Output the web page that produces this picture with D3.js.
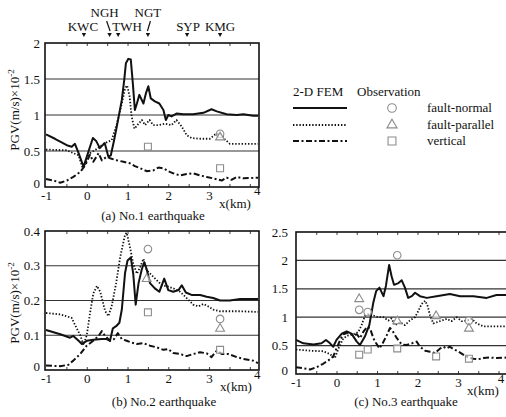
<!DOCTYPE html>
<html>
<head>
<meta charset="utf-8">
<script src="https://cdn.jsdelivr.net/npm/d3@7"></script>
<style>
  body { margin: 0; background: #fff; }
  svg, svg text { font-family: "Liberation Serif", "DejaVu Serif", "Times New Roman", serif !important; }
</style>
</head>
<body>
<div id="chart"></div>
<script>
/* CONSTANTS AND DATA */
const width = 506, height = 417;
const serif = "'Liberation Serif', 'DejaVu Serif', serif";

// observation stations along the profile (km)
const stations = ["KWC", "NGH", "TWH", "NGT", "SYP", "KMG"];
const stationKm = [-0.07, 0.56, 0.77, 1.5, 2.46, 3.27];

const xTicks = [-1, 0, 1, 2, 3, 4];
const xMinor = [-0.5, 0, 0.5, 1, 1.5, 2, 2.5, 3, 3.5, 4];

// No.1 earthquake  [x(km), PGV]
const eq1Normal = [[-1,0.73],[-0.78,0.67],[-0.49,0.58],[-0.37,0.56],[-0.29,0.6],[-0.2,0.47],[-0.08,0.28],[0.04,0.49],[0.15,0.68],[0.23,0.64],[0.32,0.54],[0.44,0.61],[0.53,0.42],[0.59,0.44],[0.67,0.65],[0.75,0.88],[0.86,1.21],[0.92,1.49],[0.96,1.72],[1.02,1.78],[1.08,1.77],[1.13,1.44],[1.18,1.07],[1.23,1.16],[1.29,1.28],[1.39,1.16],[1.45,1.3],[1.51,1.4],[1.57,1.23],[1.67,1.19],[1.78,1.16],[1.88,1.07],[1.94,0.93],[2.0,1.0],[2.08,0.98],[2.2,1.02],[2.37,1.01],[2.61,1.01],[2.86,1.03],[3.06,1.08],[3.19,1.05],[3.43,1.01],[3.68,1.0],[3.84,1.01],[4.08,0.99],[4.2,0.99]];
const eq1Parallel = [[-1,0.52],[-0.49,0.51],[-0.33,0.47],[-0.2,0.44],[-0.1,0.26],[0,0.37],[0.08,0.47],[0.25,0.53],[0.41,0.6],[0.53,0.63],[0.61,0.65],[0.74,0.88],[0.86,1.16],[0.94,1.37],[0.99,1.41],[1.05,1.26],[1.1,0.98],[1.17,0.81],[1.27,0.88],[1.35,0.93],[1.43,0.86],[1.54,0.93],[1.63,0.86],[1.76,0.86],[1.92,0.88],[2.08,0.86],[2.2,0.93],[2.33,0.84],[2.45,0.72],[2.57,0.68],[2.78,0.67],[3.02,0.67],[3.15,0.73],[3.27,0.74],[3.39,0.66],[3.51,0.6],[3.76,0.6],[4.2,0.6]];
const eq1Vertical = [[-1,0.11],[-0.82,0.09],[-0.65,0.06],[-0.49,0.09],[-0.33,0.14],[-0.16,0.21],[-0.04,0.3],[0.08,0.45],[0.16,0.35],[0.29,0.47],[0.37,0.37],[0.49,0.42],[0.57,0.4],[0.74,0.37],[0.9,0.35],[1.06,0.33],[1.18,0.29],[1.31,0.26],[1.47,0.22],[1.63,0.23],[1.76,0.27],[1.88,0.26],[2.0,0.22],[2.12,0.19],[2.29,0.16],[2.45,0.18],[2.61,0.19],[2.78,0.16],[2.94,0.14],[3.1,0.12],[3.31,0.09],[3.43,0.13],[3.55,0.1],[3.68,0.14],[3.84,0.12],[4.2,0.13]];
const eq1ObsNormal = [[3.27,0.74]];
const eq1ObsParallel = [[3.27,0.69]];
const eq1ObsVertical = [[1.5,0.56],[3.27,0.26]];

// No.2 earthquake
const eq2Normal = [[-1,0.115],[-0.65,0.103],[-0.41,0.093],[-0.33,0.098],[-0.2,0.084],[-0.12,0.075],[0,0.084],[0.16,0.087],[0.37,0.089],[0.49,0.089],[0.57,0.084],[0.64,0.12],[0.72,0.126],[0.8,0.136],[0.86,0.174],[0.94,0.28],[1.0,0.315],[1.08,0.324],[1.14,0.277],[1.2,0.188],[1.27,0.25],[1.35,0.29],[1.41,0.31],[1.47,0.29],[1.55,0.25],[1.67,0.235],[1.78,0.225],[1.9,0.263],[2.0,0.23],[2.12,0.225],[2.25,0.23],[2.33,0.244],[2.43,0.223],[2.57,0.216],[2.78,0.216],[2.94,0.211],[3.1,0.207],[3.27,0.2],[3.51,0.2],[3.76,0.204],[4.2,0.204]];
const eq2Parallel = [[-1,0.164],[-0.65,0.16],[-0.37,0.15],[-0.29,0.13],[-0.16,0.1],[-0.08,0.072],[0,0.1],[0.08,0.164],[0.16,0.22],[0.25,0.242],[0.33,0.225],[0.45,0.17],[0.53,0.155],[0.61,0.183],[0.72,0.25],[0.82,0.325],[0.94,0.39],[0.98,0.395],[1.06,0.353],[1.14,0.306],[1.23,0.277],[1.31,0.296],[1.39,0.32],[1.47,0.287],[1.59,0.273],[1.72,0.258],[1.84,0.244],[2.0,0.24],[2.12,0.235],[2.29,0.225],[2.45,0.207],[2.61,0.188],[2.74,0.183],[2.86,0.19],[2.98,0.183],[3.1,0.174],[3.27,0.169],[3.51,0.169],[3.76,0.169],[4.2,0.167]];
const eq2Vertical = [[-1,0.013],[-0.65,0.011],[-0.45,0.015],[-0.33,0.027],[-0.16,0.046],[0,0.07],[0.16,0.084],[0.29,0.098],[0.37,0.112],[0.45,0.098],[0.57,0.084],[0.67,0.089],[0.76,0.106],[0.86,0.089],[0.98,0.084],[1.1,0.079],[1.23,0.075],[1.39,0.077],[1.55,0.07],[1.72,0.065],[1.88,0.058],[2.0,0.06],[2.12,0.049],[2.29,0.046],[2.45,0.04],[2.61,0.046],[2.78,0.051],[2.94,0.048],[3.06,0.037],[3.19,0.056],[3.31,0.046],[3.47,0.046],[3.68,0.037],[3.84,0.032],[4.08,0.027],[4.2,0.02]];
const eq2ObsNormal = [[1.5,0.348],[3.27,0.147]];
const eq2ObsParallel = [[1.47,0.262],[3.27,0.119]];
const eq2ObsVertical = [[1.5,0.166],[3.27,0.058]];

// No.3 earthquake
const eq3Normal = [[-1,0.6],[-0.82,0.54],[-0.57,0.52],[-0.37,0.54],[-0.26,0.6],[-0.16,0.54],[-0.08,0.48],[0,0.6],[0.13,0.71],[0.25,0.75],[0.37,0.71],[0.5,0.57],[0.58,0.51],[0.7,0.66],[0.81,0.86],[0.91,1.26],[0.98,1.46],[1.06,1.52],[1.16,1.37],[1.22,1.55],[1.3,1.92],[1.36,1.72],[1.42,1.57],[1.53,1.6],[1.61,1.65],[1.69,1.52],[1.77,1.34],[1.86,1.37],[1.94,1.43],[2.06,1.37],[2.23,1.34],[2.47,1.37],[2.8,1.41],[3.05,1.37],[3.38,1.37],[3.71,1.34],[3.95,1.39],[4.2,1.39]];
const eq3Parallel = [[-1,0.43],[-0.65,0.41],[-0.33,0.4],[-0.16,0.35],[-0.04,0.28],[0.05,0.45],[0.17,0.63],[0.29,0.68],[0.42,0.7],[0.54,0.74],[0.62,0.86],[0.7,1.02],[0.81,1.06],[0.91,1.03],[1.03,1.0],[1.16,1.0],[1.28,0.94],[1.36,0.98],[1.44,0.86],[1.57,0.91],[1.69,0.86],[1.81,0.94],[1.94,1.0],[2.02,1.11],[2.1,1.23],[2.19,1.29],[2.25,1.2],[2.31,1.03],[2.39,0.89],[2.47,0.91],[2.6,0.94],[2.72,0.97],[2.84,0.93],[2.97,1.0],[3.09,0.93],[3.21,0.94],[3.34,0.97],[3.46,0.89],[3.63,0.84],[3.87,0.84],[4.2,0.84]];
const eq3Vertical = [[-1,0.12],[-0.82,0.1],[-0.65,0.08],[-0.49,0.12],[-0.33,0.18],[-0.2,0.24],[-0.08,0.31],[0,0.45],[0.09,0.6],[0.17,0.7],[0.29,0.73],[0.42,0.68],[0.5,0.7],[0.58,0.63],[0.66,0.74],[0.76,0.83],[0.83,0.8],[0.91,0.63],[0.98,0.54],[1.06,0.45],[1.14,0.54],[1.24,0.68],[1.32,0.81],[1.4,0.74],[1.49,0.63],[1.61,0.52],[1.73,0.51],[1.86,0.54],[1.98,0.57],[2.06,0.48],[2.19,0.41],[2.31,0.39],[2.43,0.37],[2.56,0.45],[2.64,0.48],[2.72,0.45],[2.8,0.48],[2.88,0.44],[3.0,0.4],[3.13,0.34],[3.26,0.29],[3.38,0.27],[3.5,0.26],[3.63,0.28],[3.79,0.29],[3.95,0.28],[4.2,0.29]];
const eq3ObsNormal = [[0.56,1.13],[0.77,1.09],[1.5,2.09],[3.27,0.94]];
const eq3ObsParallel = [[0.56,1.32],[1.5,0.93],[2.46,1.02],[3.27,0.8]];
const eq3ObsVertical = [[0.56,0.34],[0.77,0.43],[1.5,0.45],[2.46,0.31],[3.27,0.27]];

const yTicks1 = [0, 0.5, 1, 1.5, 2];
const yTicks2 = [0, 0.1, 0.2, 0.3, 0.4];
const yTicks3 = [0, 0.5, 1, 1.5, 2, 2.5];

/* LAYOUT */
const panels = [
  { box: { left: 45, right: 259, top: 43, bottom: 187 }, xRange: [46, 258], yDomain: [0, 2],
    yTicks: yTicks1, grid: [0.5, 1, 1.5], yLabelY: 110, title: "(a) No.1 earthquake", titleX: 153, titleY: 220,
    xLabelX: 235, lastShift: "translate(7,-5)", yPad: 5,
    lines: [eq1Normal, eq1Parallel, eq1Vertical], obs: [eq1ObsNormal, eq1ObsParallel, eq1ObsVertical], stations: true },
  { box: { left: 45, right: 259, top: 231, bottom: 370 }, xRange: [46, 258], yDomain: [0, 0.4],
    yTicks: yTicks2, grid: [0.1, 0.2, 0.3], yLabelY: 303, title: "(b) No.2 earthquake", titleX: 164, titleY: 406,
    xLabelX: 236, lastShift: "translate(7,-4)", yPad: 5,
    lines: [eq2Normal, eq2Parallel, eq2Vertical], obs: [eq2ObsNormal, eq2ObsParallel, eq2ObsVertical] },
  { box: { left: 296, right: 508, top: 232, bottom: 374 }, xRange: [296, 506.6], yDomain: [0, 2.5],
    yTicks: yTicks3, grid: [0.5, 1, 1.5, 2], title: "(c) No.3 earthquake", titleX: 406, titleY: 406,
    xLabelX: 483, lastShift: "translate(2,-4)", yPad: 8,
    lines: [eq3Normal, eq3Parallel, eq3Vertical], obs: [eq3ObsNormal, eq3ObsParallel, eq3ObsVertical] }
];

const lineStyles = [
  { width: 2, dash: null },
  { width: 1.8, dash: "1.4,1.8" },
  { width: 2, dash: "6,2.5,2,2.5" }
];
const markerTypes = [d3.symbolCircle, d3.symbolTriangle, d3.symbolSquare];
const markerSizes = [45, 34, 48];
const markerColor = "#8c8c8c";
const fontSize = 13;

const svg = d3.select("#chart").append("svg")
  .attr("width", width)
  .attr("height", height)
  .attr("font-family", serif);

/* DRAW PANELS */
panels.forEach(p => {
  const b = p.box;
  const x = d3.scaleLinear().domain([-1, 4.2]).range(p.xRange);
  const y = d3.scaleLinear().domain(p.yDomain).range([b.bottom, b.top]);
  const g = svg.append("g");

  // horizontal grid lines
  g.selectAll("line.grid")
    .data(p.grid)
    .join("line")
    .attr("class", "grid")
    .attr("x1", b.left).attr("x2", b.right)
    .attr("y1", d => y(d)).attr("y2", d => y(d))
    .attr("stroke", "#333").attr("stroke-width", 1.2);

  // inner minor ticks top & bottom
  g.append("g")
    .attr("transform", `translate(0,${b.top})`)
    .call(d3.axisBottom(x).tickValues(xMinor).tickSize(3).tickFormat(""))
    .call(a => a.select(".domain").remove())
    .selectAll("line").attr("stroke", "#444");
  g.append("g")
    .attr("transform", `translate(0,${b.bottom})`)
    .call(d3.axisTop(x).tickValues(xMinor).tickSize(3).tickFormat(""))
    .call(a => a.select(".domain").remove())
    .selectAll("line").attr("stroke", "#444");

  // x tick labels
  const xAxis = g.append("g")
    .attr("transform", `translate(0,${b.bottom})`)
    .call(d3.axisBottom(x).tickValues(xTicks).tickSize(0).tickPadding(4).tickFormat(d => String(d)))
    .attr("font-family", serif).attr("font-size", fontSize);
  xAxis.select(".domain").remove();
  xAxis.selectAll("text").attr("fill", "#111");
  xAxis.selectAll(".tick").filter(d => d === 4).select("text")
    .attr("transform", p.lastShift);

  g.append("text")
    .attr("x", p.xLabelX)
    .attr("y", b.bottom + 21)
    .attr("text-anchor", "middle")
    .attr("font-size", fontSize).attr("fill", "#111")
    .text("x(km)");

  // y tick labels
  const yAxis = g.append("g")
    .attr("transform", `translate(${b.left},0)`)
    .call(d3.axisLeft(y).tickValues(p.yTicks).tickSize(0).tickPadding(p.yPad).tickFormat(d => String(d)))
    .attr("font-family", serif).attr("font-size", fontSize);
  yAxis.select(".domain").remove();
  yAxis.selectAll("text").attr("fill", "#111");
  yAxis.selectAll(".tick").filter(d => d === 0).select("text")
    .attr("transform", "translate(0,-4)");

  // curves
  const line = d3.line().x(d => x(d[0])).y(d => y(d[1]));
  p.lines.forEach((series, i) => {
    g.append("path")
      .datum(series)
      .attr("d", line)
      .attr("fill", "none")
      .attr("stroke", "#111")
      .attr("stroke-width", lineStyles[i].width)
      .attr("stroke-dasharray", lineStyles[i].dash)
      .attr("stroke-linejoin", "round");
  });

  // observations
  p.obs.forEach((pts, i) => {
    g.selectAll(null)
      .data(pts)
      .join("path")
      .attr("d", d3.symbol().type(markerTypes[i]).size(markerSizes[i]))
      .attr("transform", d => `translate(${x(d[0])},${y(d[1])})`)
      .attr("fill", "#fff").attr("fill-opacity", 0.6)
      .attr("stroke", markerColor).attr("stroke-width", 1.1);
  });

  // frame
  g.append("rect")
    .attr("x", b.left).attr("y", b.top)
    .attr("width", b.right - b.left).attr("height", b.bottom - b.top)
    .attr("fill", "none").attr("stroke", "#111").attr("stroke-width", 1.6);

  // y label
  if (p.yLabelY) {
    const t = g.append("text")
      .attr("transform", `translate(19,${p.yLabelY}) rotate(-90)`)
      .attr("text-anchor", "middle")
      .attr("font-size", fontSize).attr("fill", "#111");
    t.append("tspan").text("PGV(m/s)×10");
    t.append("tspan").attr("dy", -5).attr("font-size", 9).text("-2");
  }

  // title
  g.append("text")
    .attr("x", p.titleX).attr("y", p.titleY)
    .attr("text-anchor", "middle")
    .attr("font-size", fontSize).attr("fill", "#111")
    .text(p.title);

  // station markers on panel (a)
  if (p.stations) {
    const labelDx = [-1, -5, 9, 0, 1, 0];
    const labelRow = [31, 17, 31, 17, 31, 31];
    const st = g.selectAll("g.station")
      .data(stations)
      .join("g")
      .attr("class", "station");
    st.append("text")
      .attr("x", (d, i) => x(stationKm[i]) + labelDx[i])
      .attr("y", (d, i) => labelRow[i])
      .attr("text-anchor", "middle")
      .attr("font-size", fontSize).attr("fill", "#111")
      .text(d => d);
    st.append("path")
      .attr("d", (d, i) => {
        const cx = x(stationKm[i]);
        return `M${cx - 2.2},33 L${cx + 2.2},33 L${cx},37 Z`;
      })
      .attr("fill", "#111");
    // leader strokes for the two upper labels
    g.append("line")
      .attr("x1", x(stationKm[1]) - 3).attr("y1", 21)
      .attr("x2", x(stationKm[1]) + 0.5).attr("y2", 31)
      .attr("stroke", "#111").attr("stroke-width", 1.2);
    g.append("line")
      .attr("x1", x(stationKm[3]) + 2.5).attr("y1", 21)
      .attr("x2", x(stationKm[3]) - 0.5).attr("y2", 31)
      .attr("stroke", "#111").attr("stroke-width", 1.2);
  }
});

/* LEGEND */
const legend = svg.append("g").attr("font-size", fontSize);
legend.append("text").attr("x", 293).attr("y", 96).attr("fill", "#111").text("2-D FEM");
legend.append("text").attr("x", 357).attr("y", 96).attr("fill", "#111").text("Observation");

const legendRows = [108, 125, 141];
const legendNames = ["fault-normal", "fault-parallel", "vertical"];
legendRows.forEach((ly, i) => {
  legend.append("line")
    .attr("x1", 293).attr("x2", 347).attr("y1", ly).attr("y2", ly)
    .attr("stroke", "#111")
    .attr("stroke-width", lineStyles[i].width)
    .attr("stroke-dasharray", lineStyles[i].dash);
  legend.append("path")
    .attr("d", d3.symbol().type(markerTypes[i]).size(markerSizes[i] * 1.3))
    .attr("transform", `translate(392,${ly})`)
    .attr("fill", "none").attr("stroke", markerColor).attr("stroke-width", 1.1);
  legend.append("text").attr("x", 427).attr("y", ly + 4).attr("fill", "#111").text(legendNames[i]);
});
</script>
</body>
</html>
